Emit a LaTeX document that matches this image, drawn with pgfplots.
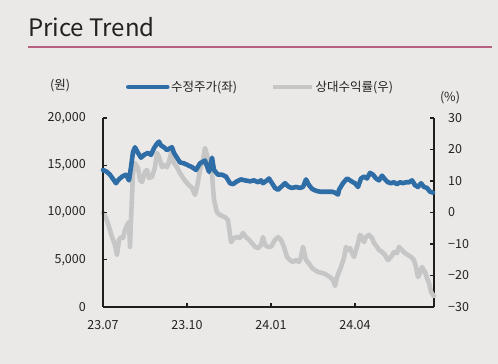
\documentclass[border=0pt]{standalone}
\usepackage{fontspec}
\setmainfont{Noto Sans CJK KR}
\usepackage{pgfplots}
\pgfplotsset{compat=1.18}
\definecolor{bgc}{HTML}{EBE9E7}
\definecolor{pinkc}{HTML}{B8607F}
\definecolor{bluec}{HTML}{2E6DA6}
\definecolor{grayc}{HTML}{C6C6C6}
\definecolor{axisc}{HTML}{1E1E1E}
\definecolor{txtc}{HTML}{222222}
\begin{document}
\begin{tikzpicture}[x=1pt,y=1pt]
\fill[bgc] (0,0) rectangle (498,364);
\path[use as bounding box] (0,0) rectangle (498,364);
\node[anchor=base west, inner sep=0pt, text=txtc, font=\fontsize{24}{28}\selectfont] at (28,327.5) {Price Trend};
\draw[pinkc, line width=2pt] (28,317) -- (492,317);
\node[text=txtc, font=\fontsize{12.5}{15}\selectfont, inner sep=0pt] at (60,278) {(원)};
\node[text=txtc, font=\fontsize{12.5}{15}\selectfont, inner sep=0pt] at (450,266) {(\%)};

\begin{axis}[at={(103pt,57pt)}, anchor=south west, width=331pt, height=189pt, scale only axis,
  xmin=0, xmax=331, ymin=-30, ymax=30, clip=false,
  axis x line=none, axis y line*=right,
  ytick={-30,-20,-10,0,10,20,30}, yticklabels={−30,−20,−10,0,10,20,30},
  tick align=inside, major tick length=4pt,
  axis line style={-, line width=1.2pt, color=axisc},
  every tick/.style={line width=1.2pt, color=axisc},
  yticklabel style={anchor=west, inner sep=0pt, xshift=14pt, text=txtc, font=\fontsize{12.5}{15}\selectfont}]
\addplot[grayc, line width=4.6pt, line join=round, line cap=round] coordinates {
(0,0) (3,-1.7) (6,-4.6) (9,-7.8) (12,-10.3) (14,-13.5) (16,-8.7) (18,-7.8) (20,-8.1) (22,-5.6)
(24,-4.0) (26,-3.0) (27,-10.9) (28,-2.4) (29,5) (30,12.5) (32,15.7) (35,14.1) (37,10.3) (39,9.7)
(42,12.9) (44,13.5) (46,11) (49,11.3) (52,14.4) (54,18.9) (56,17.6) (59,14.4) (61,15.1) (64,14.4)
(66,16) (68,18.9) (71,15.7) (74,14.4) (77,12.5) (80,11) (83,9.7) (86,8.7) (89,7.8) (92,5.6)
(94,8.1) (97,13.5) (100,16.7) (102,20.5) (104,18.3) (106,14.4) (107,12.9) (109,12) (111,4) (114,0)
(117,-0.8) (122,-1.5) (125,-2.4) (128,-9.4) (131,-8.1) (134,-7.8) (137,-8.1) (140,-6.5) (143,-7.8) (146,-8.7)
(149,-9.7) (152,-10.9) (155,-11.3) (158,-10.3) (160,-7.8) (162,-10.3) (165,-10.9) (168,-10.9) (172,-8.7) (175,-7.8)
(178,-8.7) (181,-10.9) (184,-14.1) (187,-15.1) (190,-15.7) (193,-15.1) (196,-15.7) (198,-14.1) (200,-10.9) (203,-15.1)
(206,-16.2) (209,-17.6) (212,-18.3) (215,-18.9) (219,-19.2) (222,-19.5) (227,-20.5) (230,-21.4) (232,-23.3) (234,-20.5)
(236,-18.9) (238,-17.3) (241,-14.4) (243,-10.9) (245,-11.9) (247,-11.3) (249,-12.9) (251,-14.1) (253,-11.9) (255,-9.7)
(257,-7.1) (259,-7.8) (261,-9.4) (263,-7.8) (266,-7.1) (269,-8.1) (271,-9.7) (274,-10.9) (276,-11.9) (279,-12.5)
(282,-13.5) (285,-15.1) (288,-14.1) (291,-12.5) (294,-12.9) (296,-10.9) (299,-11.9) (302,-12.9) (305,-13.5) (308,-14.1)
(311,-15.1) (313,-17.3) (315,-20.5) (317,-19.2) (319,-17.3) (322,-18.9) (324,-20.8) (326,-22.4) (328,-25.2) (330,-26.2) (331,-26.5)
};
\end{axis}

\begin{axis}[at={(103pt,57pt)}, anchor=south west, width=331pt, height=189pt, scale only axis,
  xmin=0, xmax=331, ymin=0, ymax=20000, clip=false, scaled y ticks=false,
  axis x line*=bottom, axis y line*=left,
  xtick={0,84,168,252}, xticklabels={23.07,23.10,24.01,24.04},
  ytick={0,5000,10000,15000,20000}, yticklabels={0,{5,000},{10,000},{15,000},{20,000}},
  tick align=inside, major tick length=4pt,
  axis line style={-, line width=1.2pt, color=axisc},
  every tick/.style={line width=1.2pt, color=axisc},
  yticklabel style={anchor=east, inner sep=0pt, xshift=-17pt, text=txtc, font=\fontsize{12.5}{15}\selectfont},
  xticklabel style={anchor=north, inner sep=0pt, yshift=-13pt, text=txtc, font=\fontsize{12.5}{15}\selectfont},
  legend columns=2,
  legend image code/.code={\draw[#1, line width=4.6pt] (0pt,0pt) -- (39pt,0pt);},
  legend style={draw=none, fill=none, inner sep=0pt, outer sep=0pt, at={(0.0695,1.164)}, anchor=west,
    font=\fontsize{12.5}{15}\selectfont, text=txtc,
    nodes={inner sep=1.5pt},
    /tikz/every even column/.append style={column sep=32pt}}]
\addplot[bluec, line width=4.6pt, line join=round, line cap=round] coordinates {
(0,14500) (4,14300) (7,14000) (13,13100) (15,13400) (19,13800) (23,14000) (26,13400) (28,14800) (30,16400)
(32,16900) (35,16300) (38,15800) (41,16100) (45,16300) (48,16100) (51,16800) (54,17300) (56,17500) (58,17100)
(61,16900) (64,16600) (67,16800) (69,16900) (71,16300) (74,15800) (77,15300) (81,15200) (85,15000) (89,14800)
(93,14500) (97,15200) (102,15500) (106,14300) (109,15800) (111,14500) (115,14000) (119,14000) (123,13800) (127,13100)
(130,13000) (134,13300) (138,13500) (142,13400) (147,13300) (151,13400) (155,13200) (158,13400) (160,13100) (164,13400)
(166,13600) (169,13100) (172,12600) (175,12400) (178,12700) (182,13100) (186,12700) (189,12600) (193,12700) (197,12600)
(200,12700) (203,13500) (206,12900) (209,12500) (213,12300) (217,12200) (222,12200) (229,12200) (232,12100) (235,11900)
(236,12400) (240,13100) (244,13600) (247,13400) (250,13200) (252,13100) (255,12700) (258,13600) (261,13800) (264,13600)
(267,14200) (270,14000) (273,13600) (276,13400) (279,13900) (282,13500) (285,13200) (288,13100) (291,13200) (294,13000)
(297,13200) (300,13100) (303,13200) (306,13200) (309,13400) (312,12900) (315,12700) (318,13100) (321,12700) (324,12600)
(327,12200) (330,12100)
};
\addlegendentry{수정주가(좌)}
\addlegendimage{grayc, line width=4.6pt}
\addlegendentry{상대수익률(우)}
\end{axis}
\end{tikzpicture}
\end{document}
